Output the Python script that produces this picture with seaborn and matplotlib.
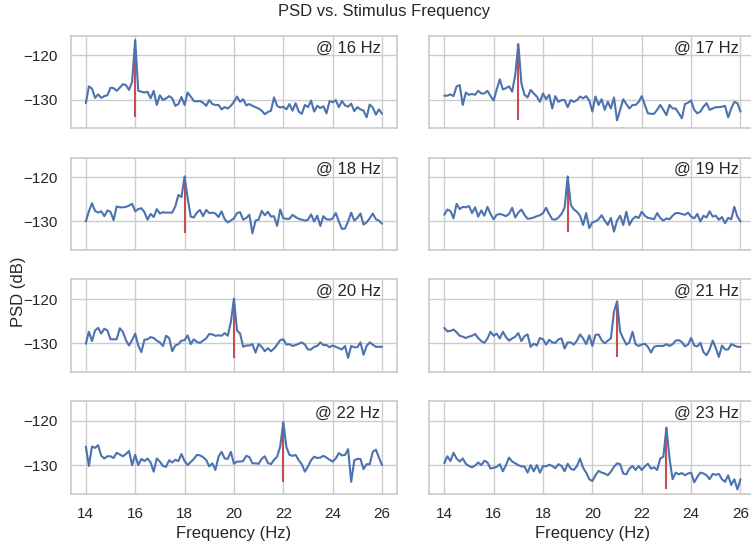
import numpy as np
import matplotlib
matplotlib.use("Agg")
import matplotlib.pyplot as plt
import seaborn as sns

# ---------------- data ----------------
stim_freqs = [16, 17, 18, 19, 20, 21, 22, 23]
panel_labels = ["@ 16 Hz", "@ 17 Hz", "@ 18 Hz", "@ 19 Hz",
                "@ 20 Hz", "@ 21 Hz", "@ 22 Hz", "@ 23 Hz"]
f_start, f_stop = 14, 26
x_ticks = [14, 16, 18, 20, 22, 24, 26]
y_ticks = [-130, -120]

psd_16 = [-130.8, -127.0, -127.5, -129.6, -128.8, -129.6, -129.2, -129.0, -127.3, -127.4,
          -128.0, -127.3, -126.5, -126.7, -127.8, -126.0, -116.5, -128.0, -128.2, -128.4,
          -128.2, -129.7, -128.0, -131.2, -129.0, -130.1, -129.7, -129.2, -129.7, -131.4,
          -131.0, -129.4, -131.2, -128.4, -129.3, -130.3, -130.4, -130.3, -130.7, -131.4,
          -130.1, -131.0, -131.2, -131.2, -132.2, -131.7, -132.0, -131.4, -130.5, -129.3,
          -130.5, -129.9, -131.3, -131.0, -131.4, -131.7, -132.0, -132.5, -133.3, -132.8,
          -132.5, -129.5, -131.4, -131.8, -131.6, -132.2, -131.0, -132.5, -130.8, -132.7,
          -133.2, -131.2, -131.7, -130.2, -132.7, -131.4, -131.9, -131.5, -133.1, -130.3,
          -130.6, -130.1, -131.7, -130.3, -131.3, -131.6, -130.9, -132.6, -131.7, -132.2,
          -132.5, -134.0, -131.1, -131.8, -133.4, -132.2, -133.2]
psd_17 = [-129.1, -129.1, -128.8, -129.2, -127.0, -126.7, -131.2, -128.4, -128.9, -128.7,
          -128.9, -128.0, -128.6, -128.6, -128.0, -129.2, -130.2, -127.7, -125.4, -127.7,
          -127.4, -127.0, -128.2, -124.4, -117.4, -126.3, -128.9, -129.5, -127.8, -128.6,
          -129.3, -130.5, -128.6, -129.9, -128.9, -132.0, -129.2, -130.5, -130.1, -130.1,
          -131.7, -130.1, -130.5, -130.1, -129.3, -129.7, -129.2, -130.2, -132.7, -129.3,
          -131.2, -129.9, -132.3, -130.5, -132.0, -129.5, -134.7, -132.3, -129.9, -131.0,
          -132.0, -131.2, -131.2, -130.5, -129.2, -131.2, -133.1, -133.2, -133.2, -132.3,
          -131.2, -132.3, -133.5, -131.2, -132.0, -132.0, -133.1, -134.2, -131.0, -130.7,
          -130.2, -132.3, -133.1, -132.7, -131.6, -130.8, -132.3, -132.0, -131.7, -131.7,
          -131.6, -131.4, -134.0, -132.0, -130.5, -130.8, -132.7]
psd_18 = [-130.0, -127.7, -125.9, -127.6, -128.0, -127.7, -128.8, -127.5, -127.8, -129.7,
          -126.6, -126.8, -126.8, -126.7, -126.4, -126.0, -127.7, -127.2, -127.0, -127.9,
          -129.6, -128.3, -129.0, -127.2, -128.2, -127.9, -128.0, -128.0, -128.0, -126.6,
          -124.0, -124.5, -119.8, -124.7, -128.9, -129.1, -128.0, -127.4, -128.8, -127.4,
          -128.1, -128.0, -128.2, -129.0, -127.7, -129.5, -130.2, -129.8, -129.3, -128.1,
          -127.9, -129.6, -129.2, -128.5, -132.7, -129.8, -129.6, -127.6, -128.6, -127.8,
          -128.9, -128.8, -131.0, -127.3, -129.3, -129.4, -129.4, -128.5, -129.0, -129.4,
          -129.6, -129.8, -129.6, -128.4, -130.0, -128.7, -131.0, -128.8, -129.5, -129.6,
          -129.3, -128.1, -130.0, -131.7, -131.6, -130.0, -128.0, -129.8, -129.2, -128.2,
          -130.7, -130.2, -129.3, -128.2, -129.5, -129.8, -130.5]
psd_19 = [-128.5, -127.3, -127.6, -129.3, -126.0, -127.2, -126.7, -126.8, -126.5, -128.1,
          -126.8, -128.9, -127.5, -128.7, -126.7, -128.3, -129.5, -128.5, -128.3, -128.5,
          -128.8, -128.3, -126.9, -129.1, -128.0, -127.3, -128.5, -129.4, -129.3, -129.1,
          -128.8, -128.6, -128.1, -126.9, -128.3, -129.5, -129.6, -129.1, -128.3, -126.9,
          -119.8, -126.2, -127.3, -127.8, -128.7, -130.8, -128.1, -131.5, -130.2, -130.0,
          -129.5, -128.6, -129.8, -130.8, -129.2, -132.3, -129.8, -128.7, -130.8, -127.8,
          -130.8, -129.5, -128.9, -129.2, -127.8, -128.7, -129.2, -129.3, -129.5, -128.1,
          -129.2, -129.8, -129.3, -129.5, -128.7, -128.1, -128.1, -128.3, -128.5, -128.0,
          -128.9, -129.3, -128.3, -130.0, -128.7, -129.1, -127.7, -128.9, -128.7, -129.6,
          -129.0, -130.4, -129.2, -129.5, -126.7, -128.9, -130.0]
psd_20 = [-130.1, -127.4, -129.5, -127.1, -126.5, -127.8, -126.7, -127.1, -129.1, -129.1,
          -129.1, -126.6, -127.4, -129.3, -130.5, -129.3, -127.8, -130.5, -132.0, -129.2,
          -129.1, -128.6, -128.8, -129.4, -129.8, -130.6, -128.3, -128.8, -131.8, -130.5,
          -130.2, -129.4, -129.3, -128.2, -130.2, -129.1, -129.7, -129.9, -129.4, -128.9,
          -127.9, -128.0, -128.3, -128.2, -128.3, -127.7, -128.3, -125.2, -119.9, -127.1,
          -127.8, -130.8, -130.5, -130.5, -130.2, -132.1, -130.2, -130.8, -131.8, -131.1,
          -131.8, -131.2, -130.3, -129.3, -129.1, -130.3, -130.2, -130.6, -130.4, -130.1,
          -129.8, -130.3, -131.4, -131.4, -130.8, -130.6, -129.8, -130.4, -130.4, -130.9,
          -130.5, -130.8, -131.1, -131.4, -130.6, -133.3, -130.6, -130.9, -130.9, -129.8,
          -132.6, -130.6, -129.8, -130.3, -130.8, -130.8, -130.8]
psd_21 = [-126.5, -127.3, -127.2, -126.9, -127.5, -128.3, -128.5, -128.8, -128.5, -128.3,
          -127.9, -128.8, -129.5, -129.9, -128.9, -127.4, -128.3, -127.8, -128.9, -127.4,
          -128.6, -129.4, -128.9, -128.5, -127.7, -129.5, -128.4, -128.0, -130.8, -130.1,
          -130.5, -128.8, -129.1, -130.3, -129.2, -129.8, -129.9, -129.1, -128.9, -131.2,
          -129.8, -129.8, -130.3, -129.4, -128.0, -128.9, -130.2, -128.2, -130.6, -128.1,
          -128.0, -129.3, -130.0, -129.4, -128.9, -122.9, -120.5, -127.4, -128.9, -130.3,
          -129.8, -127.4, -130.2, -130.6, -130.3, -130.1, -130.8, -132.1, -130.8, -130.6,
          -130.6, -130.6, -130.2, -130.6, -130.2, -129.4, -129.3, -129.7, -130.7, -130.3,
          -128.8, -130.5, -130.7, -129.9, -132.0, -132.7, -131.4, -129.4, -131.1, -133.1,
          -130.5, -131.4, -131.4, -130.2, -130.5, -130.8, -130.8]
psd_22 = [-125.8, -130.2, -125.8, -126.1, -125.5, -127.9, -128.5, -128.0, -128.0, -128.4,
          -127.2, -127.6, -128.0, -127.5, -126.8, -130.0, -127.7, -130.0, -128.6, -129.1,
          -128.5, -129.4, -131.5, -128.5, -129.2, -130.2, -130.4, -128.9, -129.4, -128.8,
          -129.1, -127.5, -129.1, -130.0, -129.3, -128.6, -127.7, -127.8, -128.2, -128.8,
          -130.3, -129.6, -131.1, -128.1, -127.0, -128.5, -128.6, -127.0, -129.7, -129.2,
          -129.2, -129.1, -127.9, -128.2, -129.6, -129.6, -129.7, -128.6, -128.0, -129.5,
          -129.8, -128.8, -128.1, -125.8, -120.3, -125.9, -127.7, -127.9, -127.7, -128.9,
          -129.8, -131.5, -130.3, -128.9, -128.1, -128.4, -128.3, -127.9, -128.3, -128.8,
          -129.2, -128.5, -127.3, -127.8, -127.7, -126.4, -133.8, -128.9, -128.6, -128.6,
          -130.9, -129.8, -129.8, -127.0, -126.5, -128.3, -130.0]
psd_23 = [-129.6, -128.0, -129.1, -127.2, -128.5, -129.2, -128.5, -129.7, -130.2, -130.5,
          -130.1, -129.4, -130.0, -129.0, -129.4, -130.8, -130.6, -130.4, -129.8, -131.4,
          -130.0, -128.3, -129.2, -129.6, -130.0, -130.3, -130.3, -131.7, -130.0, -131.4,
          -130.0, -131.7, -130.2, -130.3, -129.9, -130.2, -130.7, -129.8, -130.2, -131.4,
          -129.7, -130.8, -131.1, -130.2, -128.5, -130.6, -131.7, -133.2, -133.6, -132.3,
          -131.3, -131.7, -131.9, -132.3, -131.5, -130.4, -129.6, -129.8, -131.9, -132.1,
          -130.8, -130.2, -131.1, -130.2, -131.1, -130.3, -129.7, -130.8, -130.5, -131.1,
          -128.5, -128.1, -121.5, -128.5, -133.2, -131.7, -132.1, -131.8, -132.3, -131.9,
          -131.7, -133.9, -132.7, -131.7, -131.9, -132.3, -133.2, -132.0, -132.2, -132.0,
          -133.2, -133.8, -132.3, -134.5, -133.2, -135.5, -133.2]

series = [psd_16, psd_17, psd_18, psd_19, psd_20, psd_21, psd_22, psd_23]

# ---------------- style ----------------
sns.set_theme(style="whitegrid", context="notebook")
plt.rcParams["font.family"] = ["Liberation Sans", "DejaVu Sans"]

W, H = 751, 544
fig, axes = plt.subplots(4, 2, figsize=(W / 100, H / 100), dpi=100,
                         sharex=True, sharey=True)
fig.subplots_adjust(left=71 / W, right=755.3 / W,
                    top=1 - 35.8 / H, bottom=1 - 493.6 / H,
                    wspace=0.1, hspace=0.319)

blue = sns.color_palette("deep")[0]
red = sns.color_palette("deep")[3]

for ax, f0, lab, vals in zip(axes.flat, stim_freqs, panel_labels, series):
    psd = np.asarray(vals, dtype=float)
    freqs = np.linspace(f_start, f_stop, len(psd))
    i0 = int(np.argmin(np.abs(freqs - f0)))
    ax.vlines(freqs[i0], psd.min(), psd[i0], color=red, lw=1.5, zorder=2)
    sns.lineplot(x=freqs, y=psd, ax=ax, color=blue, lw=1.5, zorder=3)
    ax.text(0.95, 0.95, lab, transform=ax.transAxes, ha="right", va="top",
            fontsize=12)
    ax.set_xticks(x_ticks)
    ax.set_yticks(y_ticks)
    ax.set_xlabel("")
    ax.set_ylabel("")

for ax in axes[-1]:
    ax.set_xlabel("Frequency (Hz)", fontsize=12)

fig.suptitle("PSD vs. Stimulus Frequency", x=384 / W, y=1 - 4 / H,
             va="top", fontsize=12)
fig.text(18 / W, 1 - 292 / H, "PSD (dB)", rotation=90, ha="center",
         va="center", fontsize=12)

fig.savefig("out.png", dpi=100)
